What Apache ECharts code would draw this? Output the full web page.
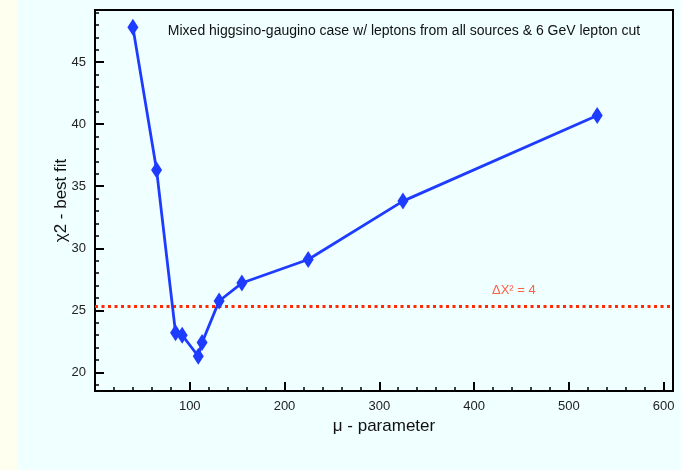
<!DOCTYPE html>
<html>
<head>
<meta charset="utf-8">
<script src="https://cdn.jsdelivr.net/npm/echarts@6/dist/echarts.min.js"></script>
<style>
html,body{margin:0;padding:0;background:#fffff0;}
#chart{width:681px;height:470px;}
</style>
</head>
<body>
<div id="chart"></div>
<script>
// ---- data ----
const muValues   = [40, 65, 85, 92, 109, 113, 131, 155, 225, 325, 530];
const chi2Values = [47.8, 36.3, 23.2, 23.0, 21.3, 22.4, 25.75, 27.2, 29.1, 33.8, 40.7];
const deltaChiLevel = 25.35;
const deltaChiLabel = 'ΔX² = 4';
const deltaChiLabelPos = [442, 26.6];
const xRange = [0, 610];
const yRange = [18.5, 49.2];
const chartTitle = 'Mixed higgsino-gaugino case w/ leptons from all sources & 6 GeV lepton cut';
const xName = 'μ - parameter';
const yName = 'χ2 - best fit';

const font = "'Liberation Sans', Helvetica, Arial, sans-serif";
const seriesData = muValues.map((m, i) => [m, chi2Values[i]]);

const chart = echarts.init(document.getElementById('chart'), null, {renderer: 'canvas'});
chart.setOption({
  backgroundColor: '#f0ffff',
  animation: false,
  graphic: [{
    type: 'rect', left: 0, top: 0, z: -10,
    shape: {x: 0, y: 0, width: 17, height: 470},
    style: {fill: '#fffff0'}
  }],
  title: {
    text: chartTitle,
    left: 399, top: 19, textAlign: 'center',
    textStyle: {fontFamily: font, fontSize: 14, fontWeight: 'normal', color: '#111'}
  },
  grid: {
    left: 95, top: 10, right: 8, bottom: 79,
    show: true, borderColor: '#000', borderWidth: 2, backgroundColor: 'transparent',
    containLabel: false, outerBoundsMode: 'none'
  },
  xAxis: [{
    type: 'value', min: xRange[0], max: xRange[1],
    minInterval: 100, maxInterval: 100,
    position: 'bottom', offset: 0,
    splitLine: {show: false},
    axisLine: {show: true, onZero: false, lineStyle: {color: '#000', width: 2}},
    axisTick: {show: true, inside: true, length: 9, lineStyle: {color: '#000', width: 2}},
    axisLabel: {
      margin: 9, fontFamily: font, fontSize: 13, color: '#222',
      formatter: v => (v > 0 && v % 100 === 0) ? String(v) : ''
    },
    name: xName, nameLocation: 'middle', nameGap: 24,
    nameTextStyle: {fontFamily: font, fontSize: 17, color: '#111'}
  }, {
    type: 'value', min: xRange[0], max: xRange[1],
    minInterval: 20, maxInterval: 20,
    position: 'bottom', offset: 0,
    splitLine: {show: false},
    axisLine: {show: false, onZero: false},
    axisTick: {show: true, inside: true, length: 4, lineStyle: {color: '#000', width: 1.5}},
    axisLabel: {show: false}
  }],
  yAxis: [{
    type: 'value', min: yRange[0], max: yRange[1],
    minInterval: 5, maxInterval: 5,
    position: 'left', offset: 0,
    splitLine: {show: false},
    axisLine: {show: true, onZero: false, lineStyle: {color: '#000', width: 2}},
    axisTick: {show: true, inside: true, length: 9, lineStyle: {color: '#000', width: 2}},
    axisLabel: {
      margin: 9, fontFamily: font, fontSize: 13, color: '#222',
      formatter: v => (v % 5 === 0) ? String(v) : ''
    },
    name: yName, nameLocation: 'middle', nameGap: 25, nameMoveOverlap: false,
    nameTextStyle: {fontFamily: font, fontSize: 17, color: '#111'}
  }, {
    type: 'value', min: yRange[0], max: yRange[1],
    minInterval: 1, maxInterval: 1,
    position: 'left', offset: 0,
    splitLine: {show: false},
    axisLine: {show: false, onZero: false},
    axisTick: {show: true, inside: true, length: 4, lineStyle: {color: '#000', width: 1.5}},
    axisLabel: {show: false}
  }],
  series: [{
    type: 'line',
    data: seriesData,
    xAxisIndex: 0, yAxisIndex: 0,
    symbol: 'diamond', symbolSize: [11, 17],
    lineStyle: {color: '#1e3cff', width: 2.8},
    itemStyle: {color: '#1e3cff'},
    z: 5,
    markLine: {
      silent: true, symbol: ['none', 'none'],
      label: {show: false},
      lineStyle: {color: '#ff2a00', width: 3, type: [3, 3.5]},
      data: [{yAxis: deltaChiLevel}]
    }
  }, {
    type: 'scatter',
    data: [deltaChiLabelPos],
    xAxisIndex: 0, yAxisIndex: 0,
    symbolSize: 0,
    label: {
      show: true, position: 'inside', formatter: deltaChiLabel,
      fontFamily: font, fontSize: 13, color: '#ff3a1a'
    }
  }]
});
</script>
</body>
</html>
